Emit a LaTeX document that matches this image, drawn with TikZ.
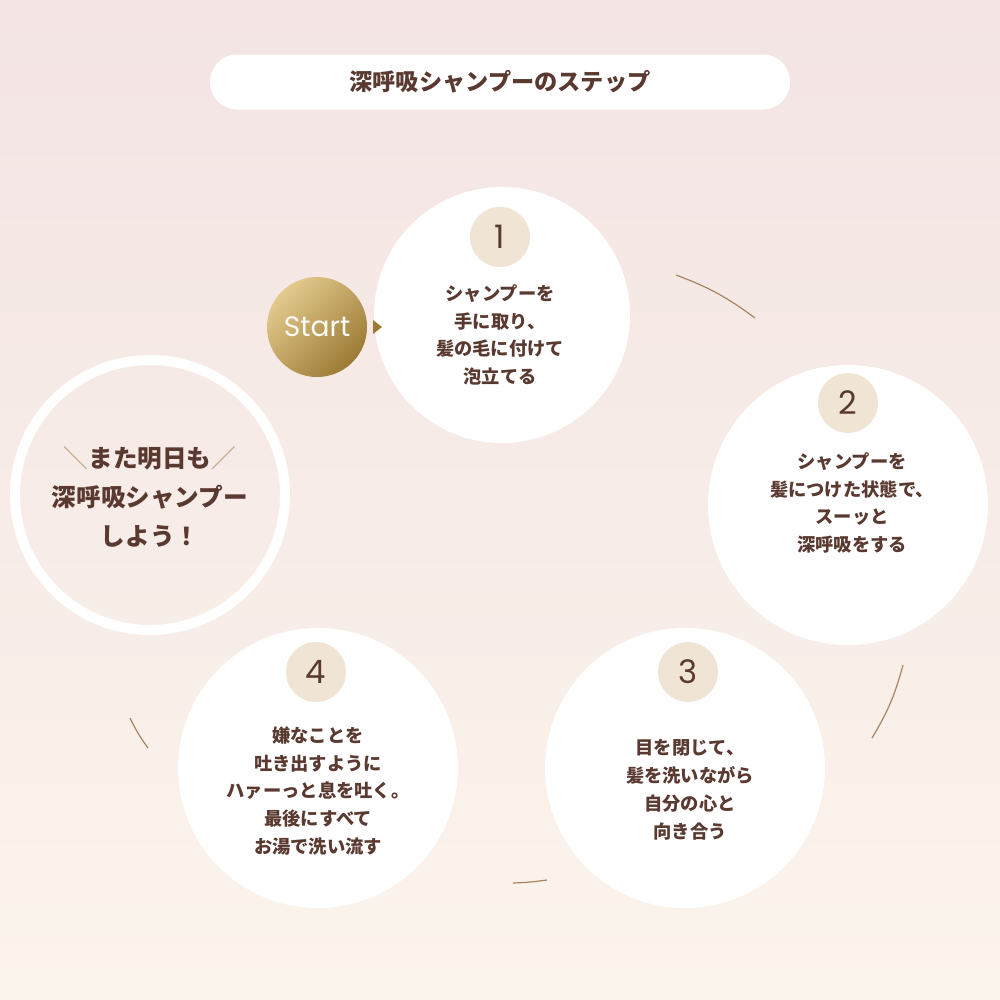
\documentclass[tikz,border=0pt]{standalone}
\usepackage{fontspec}
\newfontfamily\cjk{Noto Sans CJK JP}
\setmainfont{Poppins}
\usetikzlibrary{shadings}
\definecolor{txt}{HTML}{5A3A30}
\definecolor{badge}{HTML}{F0E5D5}
\definecolor{arcc}{HTML}{A88560}
\definecolor{bgtop}{HTML}{F3E4E3}
\definecolor{bgbot}{HTML}{FBF4EC}
\definecolor{goldA}{HTML}{E3CB8E}
\definecolor{goldB}{HTML}{9C7A35}
\tikzset{
 stepc/.style={circle,fill=white,minimum size=#1mm,inner sep=0},
 badgec/.style={circle,fill=badge,minimum size=60mm,inner sep=0,font=\fontsize{92}{92}\selectfont\color{txt}},
 steptxt/.style={align=center,font=\cjk\fontsize{52}{79}\selectfont\bfseries,text=txt},
 arcl/.style={draw=arcc,line width=1.2mm},
}
\begin{document}
\begin{tikzpicture}[x=1mm,y=-1mm]
\useasboundingbox (0,0) rectangle (1000,1000);
\shade[top color=bgtop,bottom color=bgbot] (0,0) rectangle (1000,1000);
\node[fill=white,rounded corners=27mm,minimum width=580mm,minimum height=55mm,inner sep=0,font=\cjk\fontsize{66}{66}\selectfont\bfseries,text=txt] (title) at (500,82) {深呼吸シャンプーのステップ};
% arcs
\draw[arcl] (676,275) to[bend left=8] (755,318);
\draw[arcl] (903,665) to[bend left=8] (872,738);
\draw[arcl] (547,880) to[bend left=3] (513,883);
\draw[arcl] (148,748) to[bend left=5] (130,718);
% circles
\node[stepc=256] (s1) at (502,315) {};
\node[stepc=280] (s2) at (848,505) {};
\node[stepc=280] (s3) at (685,768) {};
\node[stepc=280] (s4) at (318,768) {};
\node[circle,draw=white,line width=10mm,minimum size=270mm,inner sep=0] (fin) at (150,495) {};
% badges
\node[badgec] (b1) at (500,237) {1};
\node[badgec] (b2) at (848,403) {2};
\node[badgec] (b3) at (688,672) {3};
\node[badgec] (b4) at (316,672) {4};
% texts
\node[steptxt] (t1) at (500,335) {シャンプーを\\手に取り、\\髪の毛に付けて\\泡立てる};
\node[steptxt] (t2) at (852,503) {シャンプーを\\髪につけた状態で、\\スーッと\\深呼吸をする};
\node[steptxt] (t3) at (690,790) {目を閉じて、\\髪を洗いながら\\自分の心と\\向き合う};
\node[steptxt] (t4) at (318,791) {嫌なことを\\吐き出すように\\ハァーっと息を吐く。\\最後にすべて\\お湯で洗い流す};
\node[align=center,font=\cjk\fontsize{70}{112}\selectfont\bfseries,text=txt] (tf) at (150,497) {{\color{arcc!70}＼}また明日も{\color{arcc!70}／}\\深呼吸シャンプー\\しよう！};
% start
\shade[left color=goldA,right color=goldB,shading angle=45] (317,327) circle (50);
\node[font=\fontsize{80}{80}\selectfont,text=white!92!goldA] (st) at (317,327) {Start};
\coordinate (tip) at (382,327);
\fill[goldB] (tip) -- ++(-9,-7) -- ++(0,14) -- cycle;
\end{tikzpicture}
\end{document}
